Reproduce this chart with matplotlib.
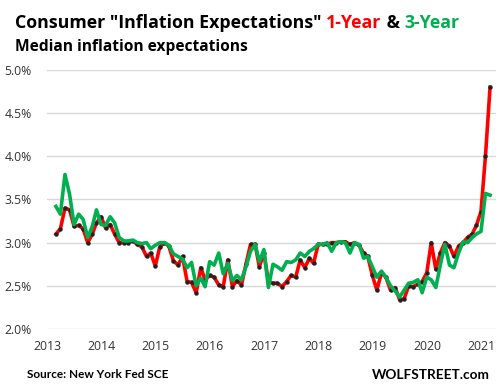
import matplotlib
matplotlib.use('Agg')
import matplotlib.pyplot as plt
import pandas as pd

# NY Fed SCE, median inflation expectations, Jun 2013 - Jun 2021 (monthly)
months = pd.date_range('2013-06-01', '2021-06-01', freq='MS')

one_year = [3.10, 3.16, 3.40, 3.38, 3.19, 3.20, 3.16, 3.00, 3.10, 3.23,
            3.30, 3.17, 3.21, 3.10, 3.00, 3.00, 3.00, 3.02, 2.98, 2.95,
            2.84, 2.88, 2.73, 2.95, 3.00, 2.96, 2.79, 2.74, 2.84, 2.55,
            2.54, 2.42, 2.71, 2.57, 2.62, 2.60, 2.51, 2.49, 2.80, 2.49,
            2.56, 2.51, 2.75, 2.98, 2.98, 2.72, 2.88, 2.55, 2.53, 2.53,
            2.49, 2.55, 2.62, 2.60, 2.80, 2.71, 2.82, 2.76, 2.98, 2.98,
            2.98, 3.00, 3.00, 3.01, 3.01, 2.98, 3.00, 2.97, 2.88, 2.84,
            2.62, 2.45, 2.65, 2.60, 2.45, 2.48, 2.34, 2.35, 2.50, 2.49,
            2.52, 2.55, 2.65, 3.00, 2.69, 2.88, 3.00, 2.96, 2.84, 2.96,
            3.00, 3.06, 3.10, 3.20, 3.36, 4.00, 4.80]

three_year = [3.42, 3.33, 3.79, 3.56, 3.21, 3.33, 3.27, 3.06, 3.19, 3.38,
              3.21, 3.20, 3.30, 3.23, 3.06, 3.02, 3.02, 3.03, 3.00, 2.99,
              3.00, 2.93, 2.97, 3.00, 3.00, 2.97, 2.87, 2.84, 2.81, 2.71,
              2.77, 2.50, 2.59, 2.49, 2.78, 2.74, 2.88, 2.64, 2.76, 2.56,
              2.62, 2.57, 2.72, 2.90, 2.98, 2.78, 2.92, 2.48, 2.75, 2.72,
              2.68, 2.78, 2.77, 2.80, 2.88, 2.84, 2.90, 2.93, 2.98, 2.98,
              3.00, 2.90, 3.00, 3.01, 3.00, 2.88, 3.00, 2.98, 2.82, 2.84,
              2.72, 2.60, 2.67, 2.60, 2.50, 2.44, 2.37, 2.45, 2.53, 2.54,
              2.57, 2.42, 2.60, 2.57, 2.48, 2.74, 2.98, 2.74, 2.71, 2.88,
              3.01, 3.00, 3.06, 3.10, 3.13, 3.57, 3.55]

years = list(range(2013, 2022))
y_ticks = [2.0, 2.5, 3.0, 3.5, 4.0, 4.5, 5.0]

RED = '#ff0000'
GREEN = '#00b050'

fig = plt.figure(figsize=(5, 3.91), dpi=100)
ax = fig.add_axes([0.094, 0.1586, 0.898, 0.6624])

ax.plot(months, one_year, color=RED, lw=2.6, zorder=2)
ax.plot(months, one_year, ls='none', marker='o', ms=2.2, color='#222222', zorder=2.5)
ax.plot(months, three_year, color=GREEN, lw=2.6, zorder=3)

ax.set_ylim(2.0, 5.0)
ax.set_yticks(y_ticks)
ax.set_yticklabels(['%.1f%%' % v for v in y_ticks])
ax.set_xlim(pd.Timestamp('2013-04-02'), pd.Timestamp('2021-07-11'))
ax.set_xticks([pd.Timestamp('%d-04-03' % y) for y in years])
ax.set_xticklabels([str(y) for y in years])

ax.grid(axis='y', color='#d9d9d9', lw=1)
ax.set_axisbelow(True)
for s in ax.spines.values():
    s.set_visible(False)
ax.tick_params(length=0, labelsize=8.8, colors='#333333')
ax.tick_params(axis='y', pad=11)
ax.tick_params(axis='x', pad=8)
for lab in ax.get_xticklabels() + ax.get_yticklabels():
    lab.set_family('Open Sans')

# title with coloured pieces
renderer = fig.canvas.get_renderer()
x = 15 / 500
pieces = [('Consumer "Inflation Expectations" ', 'black'), ('1-Year', RED),
          (' & ', 'black'), ('3-Year', GREEN)]
for txt, col in pieces:
    t = fig.text(x, 1 - 28 / 391, txt, color=col, fontsize=12.8, fontweight='bold',
                 family='Open Sans', ha='left', va='baseline')
    bb = t.get_window_extent(renderer)
    x += bb.width / fig.bbox.width
fig.text(15 / 500, 1 - 51 / 391, 'Median inflation expectations', fontsize=11.2,
         fontweight='bold', family='Open Sans', ha='left', va='baseline')

fig.text(27 / 500, 1 - 378 / 391, 'Source: New York Fed SCE', fontsize=8.5,
         fontweight='bold', family='Lato', ha='left', va='baseline')
fig.text(490 / 500, 1 - 379 / 391, 'WOLFSTREET.com', fontsize=9.8,
         fontweight='bold', family='Lato', ha='right', va='baseline')

plt.savefig('out.png', dpi=100)
